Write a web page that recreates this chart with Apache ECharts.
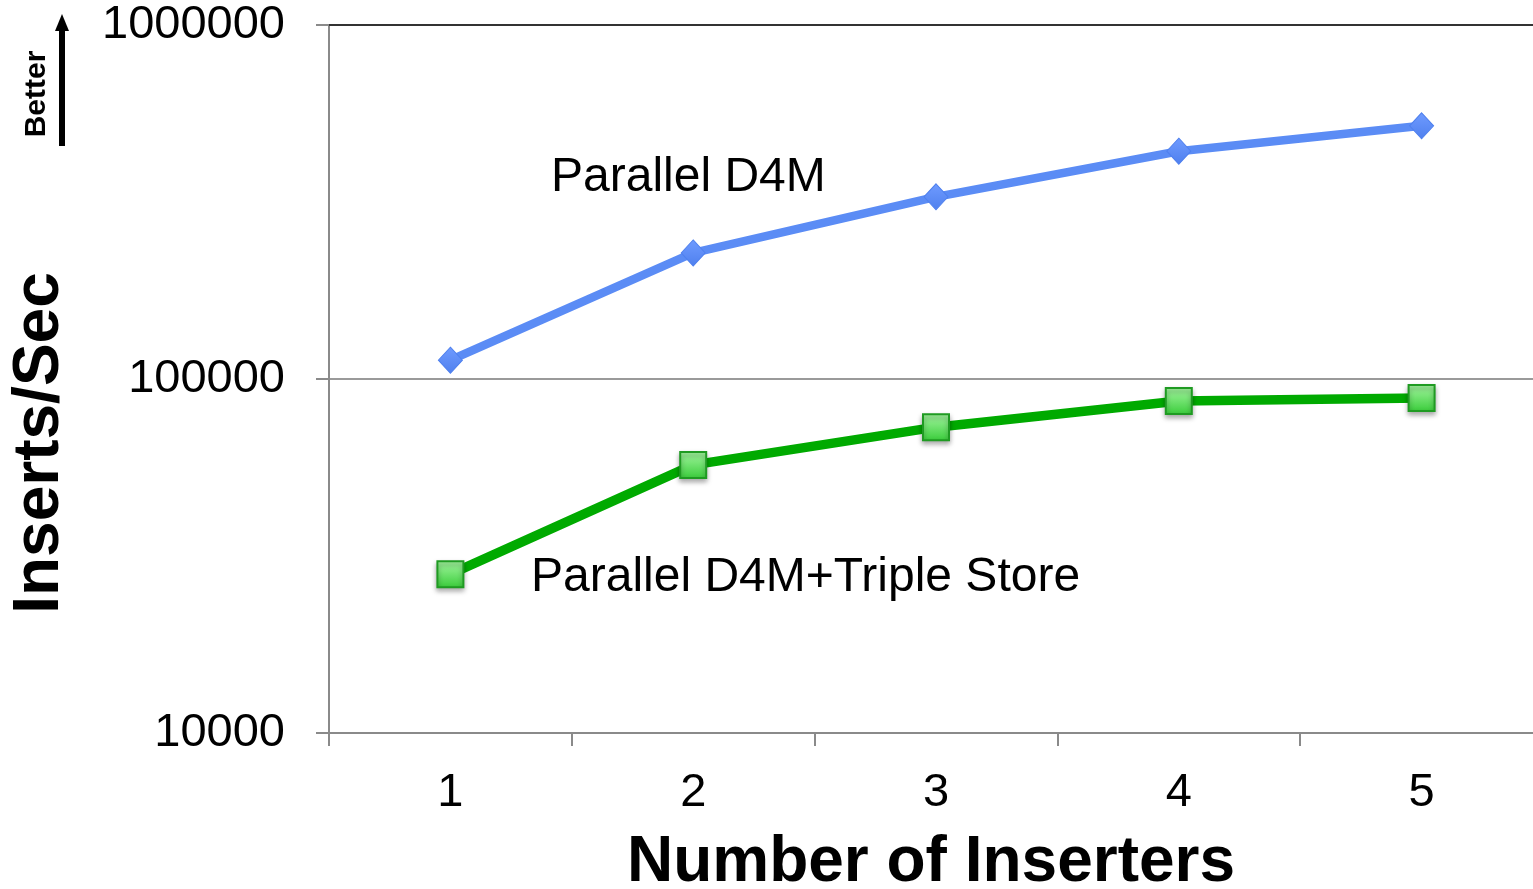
<!DOCTYPE html>
<html>
<head>
<meta charset="utf-8">
<script src="https://cdn.jsdelivr.net/npm/echarts@6/dist/echarts.min.js"></script>
<style>
  html, body { margin: 0; padding: 0; background: #fff; overflow: hidden; }
  #chart { width: 1545px; height: 889px; }
</style>
</head>
<body>
<div id="chart"></div>
<script>
// Insert throughput vs. number of parallel inserters (log scale)
const inserters = ['1', '2', '3', '4', '5'];
const parallelD4M = [113000, 227000, 327000, 440000, 519000];
const parallelD4MTriple = [28100, 57200, 73100, 86700, 88400];
const yTicks = [10000, 100000, 1000000];

const FONT = 'Arial, "Liberation Sans", Helvetica, sans-serif';
const chart = echarts.init(document.getElementById('chart'), null, { renderer: 'canvas' });

const option = {
  animation: false,
  backgroundColor: '#ffffff',
  grid: { left: 329, top: 25, width: 1214, height: 708, containLabel: false },
  xAxis: [
    {
      type: 'category',
      data: inserters,
      boundaryGap: true,
      axisLine: { lineStyle: { color: '#8a8a8a', width: 2 } },
      axisTick: { show: true, length: 13, lineStyle: { color: '#8a8a8a', width: 2 } },
      axisLabel: { color: '#000', fontSize: 47, fontFamily: FONT, margin: 37 }
    },
    {
      type: 'category',
      data: inserters,
      position: 'top',
      axisLine: { show: true, lineStyle: { color: '#333', width: 2 } },
      axisTick: { show: false },
      axisLabel: { show: false }
    }
  ],
  yAxis: {
    type: 'log',
    logBase: 10,
    min: yTicks[0],
    max: yTicks[yTicks.length - 1],
    axisLine: { show: true, lineStyle: { color: '#8a8a8a', width: 2 } },
    axisTick: { show: true, inside: false, length: 13, lineStyle: { color: '#8a8a8a', width: 2 } },
    splitLine: { show: true, lineStyle: { color: '#9a9a9a', width: 2 } },
    axisLabel: {
      color: '#000', fontSize: 47, fontFamily: FONT, margin: 44,
      formatter: v => String(Math.round(v))
    }
  },
  series: [
    {
      name: 'Parallel D4M',
      type: 'line',
      data: parallelD4M,
      lineStyle: { color: '#5b8cf5', width: 8.5 },
      symbol: 'diamond',
      symbolSize: [24, 26],
      itemStyle: {
        color: new echarts.graphic.LinearGradient(0, 0, 0, 1, [
          { offset: 0, color: '#6f9bff' },
          { offset: 1, color: '#4f80ee' }
        ]),
        borderColor: '#4f80ee',
        borderWidth: 1
      },
      z: 3
    },
    {
      name: 'Parallel D4M+Triple Store',
      type: 'line',
      data: parallelD4MTriple,
      lineStyle: { color: '#00aa00', width: 9.5 },
      symbol: 'rect',
      symbolSize: 26,
      itemStyle: {
        color: new echarts.graphic.LinearGradient(0, 0, 0, 1, [
          { offset: 0, color: '#a6f7a2' },
          { offset: 1, color: '#39cc3a' }
        ]),
        borderColor: '#1f9b22',
        borderWidth: 2,
        shadowColor: 'rgba(0,0,0,0.35)',
        shadowBlur: 5,
        shadowOffsetY: 3
      },
      z: 4
    }
  ],
  graphic: [
    {
      type: 'text', x: 551, y: 178,
      style: { text: 'Parallel D4M', font: '48px ' + FONT, fill: '#000', textVerticalAlign: 'middle' }
    },
    {
      type: 'text', x: 531, y: 578,
      style: { text: 'Parallel D4M+Triple Store', font: '48px ' + FONT, fill: '#000', textVerticalAlign: 'middle' }
    },
    {
      type: 'text', x: 931, y: 863,
      style: { text: 'Number of Inserters', font: 'bold 64px ' + FONT, fill: '#000', textAlign: 'center', textVerticalAlign: 'middle' }
    },
    {
      type: 'text', x: 40, y: 443, rotation: Math.PI / 2,
      style: { text: 'Inserts/Sec', font: 'bold 64px ' + FONT, fill: '#000', textAlign: 'center', textVerticalAlign: 'middle' }
    },
    {
      type: 'text', x: 37, y: 94, rotation: Math.PI / 2,
      style: { text: 'Better', font: 'bold 30px ' + FONT, fill: '#000', textAlign: 'center', textVerticalAlign: 'middle' }
    },
    {
      type: 'line',
      shape: { x1: 62, y1: 146, x2: 62, y2: 28 },
      style: { stroke: '#000', lineWidth: 6 }
    },
    {
      type: 'polygon',
      shape: { points: [[62, 14], [55, 31], [69, 31]] },
      style: { fill: '#000' }
    }
  ]
};

chart.setOption(option);
</script>
</body>
</html>
